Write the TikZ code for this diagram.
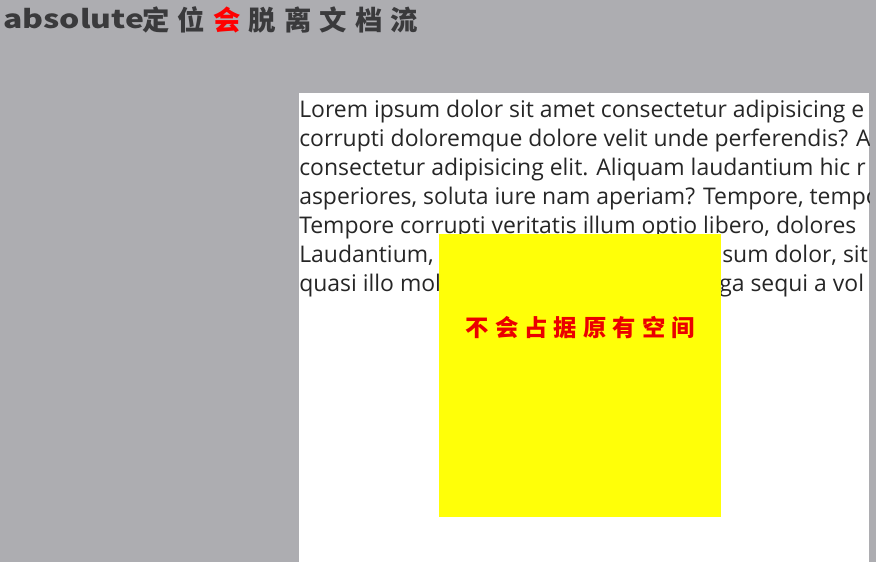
\documentclass[tikz,border=0pt]{standalone}
\usepackage{fontspec}
\setmainfont{Open Sans}
\newfontfamily\cjk{Noto Sans CJK SC}
\usepackage{xcolor}
\usetikzlibrary{positioning}
\definecolor{pagegray}{RGB}{173,173,177}
\definecolor{titlegray}{RGB}{58,58,60}
\definecolor{boxyellow}{RGB}{255,255,8}
\definecolor{notered}{RGB}{235,0,0}
\newcommand{\txtsize}{\fontsize{17.2}{20}\selectfont}

\begin{document}
\begin{tikzpicture}[x=0.75pt,y=-0.75pt,
  textline/.style={anchor=base west,inner sep=0pt,font=\txtsize,text=black!85},
  titlechar/.style={anchor=base,inner sep=0pt,font=\cjk\bfseries\fontsize{20.5}{22}\selectfont}]
\useasboundingbox (0,0) rectangle (876,562);
\fill[pagegray] (0,0) rectangle (876,562);
% title
\node[anchor=base west,inner sep=0pt,text=titlegray,
  font=\cjk\bfseries\fontsize{19}{20}\selectfont] (title) at (3,28)
  {\scalebox{1.26}[1]{absolute}};
\foreach \ch/\col [count=\i from 0] in
  {定/titlegray,位/titlegray,会/red,脱/titlegray,离/titlegray,文/titlegray,档/titlegray,流/titlegray}
  \node[titlechar,text=\col] (t\i) at ({156+35.5*\i},30) {\ch};
% page
\fill[white] (299,93) rectangle (869,562);
\begin{scope}
\clip (299,93) rectangle (869,562);
\node[textline] (l1) at (299,117) {Lorem ipsum dolor sit amet consectetur adipisicing e};
\node[textline] (l2) at (299,146) {corrupti doloremque dolore velit unde perferendis? A};
\node[textline] (l3) at (299,175) {consectetur adipisicing elit. Aliquam laudantium hic r};
\node[textline] (l4) at (299,204) {asperiores, soluta iure nam aperiam? Tempore, tempo};
\node[textline] (l5) at (299,233) {Tempore corrupti veritatis illum optio libero, dolores};
\node[textline] (l6a) at (299,262) {Laudantium,};
\node[textline] (l6b) at (722,262) {sum dolor, sit};
\node[textline] (l7a) at (299,291) {quasi illo mol};
\node[textline] (l7b) at (719,291) {ga sequi a vol};
\end{scope}
% absolute box
\node[fill=boxyellow,inner sep=0pt,minimum width=211.5pt,minimum height=212.25pt,
  anchor=north west] (box) at (439,234) {};
\node[text=notered,font=\cjk\bfseries\fontsize{17.5}{20}\selectfont,
  below=58pt of box.north] (note) {\addfontfeature{LetterSpace=26}不会占据原有空间};
\end{tikzpicture}
\end{document}
